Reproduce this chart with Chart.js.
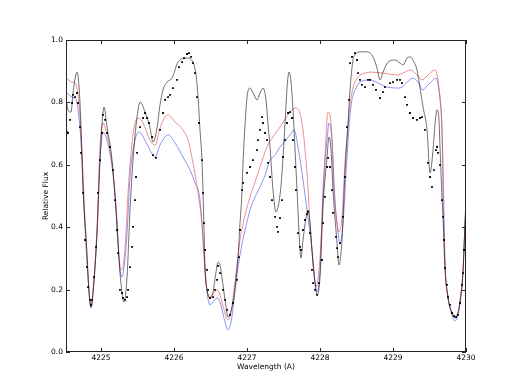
<!DOCTYPE html>
<html lang="en">
<head>
<meta charset="UTF-8">
<title>Relative Flux vs Wavelength</title>
<script src="https://cdn.jsdelivr.net/npm/chart.js"></script>
<style>
  body { margin: 0; background: #fff; }
  #spec { display: block; }
</style>
</head>
<body>
<canvas id="spec" width="518" height="388"></canvas>
<script>
// axis ticks
const xTicks = [4225, 4226, 4227, 4228, 4229, 4230];
const yTicks = [0.0, 0.2, 0.4, 0.6, 0.8, 1.0];

// black model
const blackWl = [4224.521, 4224.548, 4224.589, 4224.616, 4224.671, 4224.699, 4224.726, 4224.753, 4224.808, 4224.836,
  4224.863, 4224.890, 4224.945, 4224.986, 4225.041, 4225.082, 4225.151, 4225.219, 4225.260, 4225.315,
  4225.356, 4225.397, 4225.438, 4225.493, 4225.534, 4225.603, 4225.671, 4225.712, 4225.767, 4225.808,
  4225.849, 4225.904, 4225.973, 4226.055, 4226.178, 4226.260, 4226.301, 4226.329, 4226.356, 4226.384,
  4226.411, 4226.425, 4226.452, 4226.493, 4226.534, 4226.575, 4226.603, 4226.630, 4226.658, 4226.699,
  4226.740, 4226.795, 4226.836, 4226.877, 4226.904, 4226.932, 4226.945, 4226.973, 4227.000, 4227.041,
  4227.096, 4227.137, 4227.178, 4227.219, 4227.260, 4227.288, 4227.315, 4227.356, 4227.397, 4227.452,
  4227.479, 4227.521, 4227.548, 4227.575, 4227.603, 4227.630, 4227.658, 4227.685, 4227.726, 4227.740,
  4227.767, 4227.808, 4227.836, 4227.863, 4227.904, 4227.945, 4227.959, 4228.000, 4228.041, 4228.096,
  4228.123, 4228.151, 4228.178, 4228.233, 4228.260, 4228.301, 4228.342, 4228.384, 4228.411, 4228.452,
  4228.479, 4228.548, 4228.644, 4228.726, 4228.781, 4228.822, 4228.863, 4228.932, 4229.027, 4229.096,
  4229.137, 4229.192, 4229.233, 4229.288, 4229.329, 4229.370, 4229.411, 4229.466, 4229.507, 4229.548,
  4229.575, 4229.603, 4229.630, 4229.644, 4229.671, 4229.685, 4229.712, 4229.753, 4229.808, 4229.849,
  4229.890, 4229.918, 4229.959, 4229.986, 4230.000];
const blackFlux = [0.814, 0.776, 0.769, 0.830, 0.897, 0.849, 0.721, 0.529, 0.317, 0.189,
  0.144, 0.189, 0.381, 0.615, 0.785, 0.721, 0.615, 0.401, 0.253, 0.160,
  0.240, 0.455, 0.615, 0.753, 0.801, 0.769, 0.718, 0.673, 0.718, 0.792,
  0.840, 0.865, 0.878, 0.929, 0.942, 0.929, 0.888, 0.817, 0.712, 0.606,
  0.391, 0.263, 0.199, 0.173, 0.192, 0.256, 0.288, 0.279, 0.237, 0.167,
  0.112, 0.144, 0.208, 0.304, 0.413, 0.519, 0.606, 0.728, 0.817, 0.846,
  0.824, 0.808, 0.830, 0.846, 0.808, 0.728, 0.657, 0.519, 0.449, 0.503,
  0.574, 0.734, 0.846, 0.897, 0.865, 0.776, 0.647, 0.519, 0.327, 0.301,
  0.359, 0.429, 0.455, 0.413, 0.285, 0.199, 0.183, 0.240, 0.465, 0.625,
  0.689, 0.647, 0.519, 0.349, 0.279, 0.359, 0.574, 0.734, 0.840, 0.936,
  0.952, 0.962, 0.962, 0.946, 0.910, 0.872, 0.897, 0.929, 0.936, 0.926,
  0.920, 0.942, 0.946, 0.929, 0.904, 0.846, 0.785, 0.712, 0.574, 0.647,
  0.728, 0.776, 0.744, 0.657, 0.497, 0.433, 0.269, 0.176, 0.125, 0.109,
  0.125, 0.157, 0.253, 0.413, 0.487];

// red model
const redWl = [4224.521, 4224.603, 4224.644, 4224.671, 4224.699, 4224.740, 4224.781, 4224.822, 4224.863, 4224.890,
  4224.945, 4224.986, 4225.027, 4225.055, 4225.123, 4225.192, 4225.233, 4225.274, 4225.301, 4225.342,
  4225.370, 4225.425, 4225.466, 4225.507, 4225.575, 4225.671, 4225.740, 4225.808, 4225.877, 4225.918,
  4226.014, 4226.123, 4226.192, 4226.260, 4226.329, 4226.384, 4226.425, 4226.452, 4226.493, 4226.534,
  4226.589, 4226.630, 4226.685, 4226.740, 4226.781, 4226.822, 4226.863, 4226.904, 4226.973, 4227.041,
  4227.110, 4227.178, 4227.274, 4227.356, 4227.452, 4227.589, 4227.658, 4227.726, 4227.767, 4227.795,
  4227.822, 4227.863, 4227.904, 4227.945, 4227.986, 4228.027, 4228.068, 4228.110, 4228.151, 4228.192,
  4228.233, 4228.260, 4228.301, 4228.342, 4228.384, 4228.411, 4228.452, 4228.507, 4228.616, 4228.685,
  4228.863, 4229.055, 4229.164, 4229.233, 4229.329, 4229.397, 4229.452, 4229.507, 4229.575, 4229.616,
  4229.644, 4229.671, 4229.685, 4229.712, 4229.753, 4229.808, 4229.849, 4229.890, 4229.918, 4229.959,
  4229.986, 4230.000];
const redFlux = [0.878, 0.865, 0.862, 0.846, 0.792, 0.638, 0.423, 0.240, 0.151, 0.199,
  0.401, 0.657, 0.734, 0.721, 0.647, 0.510, 0.349, 0.263, 0.272, 0.381,
  0.510, 0.670, 0.734, 0.750, 0.734, 0.679, 0.663, 0.718, 0.753, 0.760,
  0.737, 0.712, 0.679, 0.606, 0.510, 0.407, 0.263, 0.199, 0.176, 0.186,
  0.199, 0.183, 0.135, 0.103, 0.128, 0.199, 0.279, 0.359, 0.439, 0.497,
  0.545, 0.593, 0.657, 0.689, 0.721, 0.769, 0.782, 0.766, 0.712, 0.647,
  0.574, 0.413, 0.285, 0.208, 0.263, 0.413, 0.625, 0.769, 0.734, 0.519,
  0.413, 0.385, 0.433, 0.606, 0.728, 0.792, 0.846, 0.878, 0.894, 0.897,
  0.894, 0.888, 0.897, 0.904, 0.888, 0.872, 0.881, 0.894, 0.904, 0.872,
  0.808, 0.712, 0.497, 0.279, 0.176, 0.128, 0.115, 0.128, 0.167, 0.263,
  0.407, 0.471];

// blue model
const blueWl = [4224.521, 4224.603, 4224.658, 4224.685, 4224.726, 4224.767, 4224.822, 4224.863, 4224.890, 4224.945,
  4224.986, 4225.027, 4225.082, 4225.151, 4225.219, 4225.247, 4225.288, 4225.315, 4225.356, 4225.397,
  4225.466, 4225.521, 4225.603, 4225.671, 4225.740, 4225.808, 4225.877, 4225.918, 4226.014, 4226.123,
  4226.219, 4226.288, 4226.356, 4226.397, 4226.425, 4226.452, 4226.493, 4226.534, 4226.589, 4226.630,
  4226.685, 4226.740, 4226.781, 4226.822, 4226.863, 4226.904, 4226.973, 4227.041, 4227.110, 4227.178,
  4227.247, 4227.315, 4227.384, 4227.452, 4227.534, 4227.616, 4227.644, 4227.699, 4227.767, 4227.822,
  4227.890, 4227.932, 4227.959, 4228.000, 4228.041, 4228.096, 4228.123, 4228.164, 4228.205, 4228.247,
  4228.274, 4228.315, 4228.370, 4228.411, 4228.438, 4228.493, 4228.548, 4228.685, 4228.822, 4228.918,
  4229.096, 4229.192, 4229.274, 4229.342, 4229.411, 4229.466, 4229.507, 4229.589, 4229.630, 4229.658,
  4229.685, 4229.712, 4229.753, 4229.808, 4229.849, 4229.890, 4229.918, 4229.959, 4229.986, 4230.000];
const blueFlux = [0.833, 0.817, 0.808, 0.776, 0.670, 0.455, 0.240, 0.141, 0.189, 0.381,
  0.615, 0.705, 0.679, 0.593, 0.423, 0.295, 0.240, 0.272, 0.381, 0.561,
  0.679, 0.705, 0.679, 0.647, 0.625, 0.663, 0.689, 0.696, 0.670, 0.625,
  0.583, 0.542, 0.487, 0.359, 0.263, 0.192, 0.151, 0.160, 0.173, 0.160,
  0.109, 0.071, 0.096, 0.167, 0.247, 0.311, 0.391, 0.455, 0.497, 0.529,
  0.567, 0.615, 0.631, 0.657, 0.679, 0.705, 0.712, 0.657, 0.551, 0.455,
  0.327, 0.221, 0.192, 0.263, 0.519, 0.679, 0.734, 0.679, 0.487, 0.381,
  0.349, 0.413, 0.625, 0.760, 0.808, 0.846, 0.865, 0.872, 0.859, 0.849,
  0.846, 0.865, 0.878, 0.865, 0.840, 0.853, 0.862, 0.878, 0.840, 0.776,
  0.606, 0.295, 0.176, 0.119, 0.099, 0.119, 0.160, 0.263, 0.407, 0.471];

// observed spectrum
const obsWl = [4224.521, 4224.534, 4224.548, 4224.575, 4224.603, 4224.616, 4224.644, 4224.671, 4224.685, 4224.712,
  4224.726, 4224.753, 4224.781, 4224.808, 4224.822, 4224.849, 4224.863, 4224.877, 4224.904, 4224.932,
  4224.959, 4224.986, 4225.014, 4225.027, 4225.055, 4225.082, 4225.123, 4225.164, 4225.192, 4225.219,
  4225.233, 4225.260, 4225.288, 4225.301, 4225.329, 4225.356, 4225.370, 4225.397, 4225.425, 4225.438,
  4225.466, 4225.479, 4225.493, 4225.534, 4225.575, 4225.603, 4225.630, 4225.658, 4225.699, 4225.712,
  4225.753, 4225.808, 4225.849, 4225.877, 4225.918, 4225.945, 4225.986, 4226.041, 4226.068, 4226.110,
  4226.137, 4226.178, 4226.205, 4226.233, 4226.260, 4226.288, 4226.315, 4226.342, 4226.384, 4226.397,
  4226.411, 4226.425, 4226.452, 4226.466, 4226.493, 4226.534, 4226.562, 4226.589, 4226.603, 4226.630,
  4226.671, 4226.699, 4226.726, 4226.767, 4226.808, 4226.863, 4226.890, 4226.904, 4226.932, 4226.945,
  4227.000, 4227.041, 4227.082, 4227.137, 4227.151, 4227.178, 4227.205, 4227.219, 4227.247, 4227.274,
  4227.288, 4227.315, 4227.342, 4227.384, 4227.411, 4227.425, 4227.452, 4227.479, 4227.493, 4227.521,
  4227.548, 4227.562, 4227.589, 4227.616, 4227.630, 4227.658, 4227.671, 4227.699, 4227.726, 4227.740,
  4227.767, 4227.795, 4227.822, 4227.836, 4227.863, 4227.890, 4227.904, 4227.932, 4227.959, 4227.986,
  4228.027, 4228.041, 4228.068, 4228.096, 4228.110, 4228.137, 4228.164, 4228.178, 4228.219, 4228.233,
  4228.247, 4228.274, 4228.315, 4228.342, 4228.370, 4228.397, 4228.411, 4228.438, 4228.479, 4228.507,
  4228.521, 4228.548, 4228.575, 4228.616, 4228.658, 4228.685, 4228.726, 4228.767, 4228.822, 4228.863,
  4228.890, 4228.959, 4229.000, 4229.055, 4229.096, 4229.123, 4229.164, 4229.192, 4229.233, 4229.274,
  4229.329, 4229.370, 4229.397, 4229.438, 4229.479, 4229.507, 4229.534, 4229.562, 4229.589, 4229.603,
  4229.616, 4229.644, 4229.671, 4229.685, 4229.699, 4229.712, 4229.740, 4229.753, 4229.781, 4229.808,
  4229.836, 4229.863, 4229.890, 4229.918, 4229.945, 4229.959, 4229.973];
const obsFlux = [0.718, 0.705, 0.702, 0.744, 0.798, 0.824, 0.817, 0.830, 0.798, 0.721,
  0.638, 0.510, 0.359, 0.272, 0.208, 0.167, 0.151, 0.167, 0.240, 0.337,
  0.510, 0.615, 0.702, 0.760, 0.744, 0.702, 0.657, 0.583, 0.487, 0.391,
  0.317, 0.199, 0.189, 0.173, 0.167, 0.176, 0.199, 0.272, 0.337, 0.401,
  0.487, 0.561, 0.638, 0.721, 0.750, 0.766, 0.750, 0.734, 0.689, 0.631,
  0.622, 0.712, 0.766, 0.808, 0.817, 0.824, 0.846, 0.872, 0.913, 0.929,
  0.942, 0.955, 0.958, 0.946, 0.926, 0.894, 0.817, 0.734, 0.615, 0.510,
  0.413, 0.327, 0.263, 0.199, 0.173, 0.176, 0.199, 0.231, 0.276, 0.253,
  0.199, 0.167, 0.135, 0.119, 0.157, 0.231, 0.304, 0.391, 0.519, 0.542,
  0.574, 0.593, 0.615, 0.647, 0.679, 0.712, 0.753, 0.734, 0.702, 0.679,
  0.606, 0.561, 0.487, 0.433, 0.401, 0.385, 0.429, 0.487, 0.625, 0.679,
  0.734, 0.766, 0.769, 0.750, 0.679, 0.593, 0.519, 0.381, 0.337, 0.327,
  0.391, 0.423, 0.442, 0.449, 0.381, 0.263, 0.221, 0.199, 0.183, 0.221,
  0.295, 0.413, 0.497, 0.593, 0.622, 0.593, 0.519, 0.446, 0.369, 0.333,
  0.304, 0.349, 0.433, 0.561, 0.721, 0.808, 0.926, 0.946, 0.958, 0.936,
  0.894, 0.872, 0.856, 0.849, 0.872, 0.872, 0.856, 0.840, 0.814, 0.833,
  0.849, 0.862, 0.865, 0.872, 0.872, 0.862, 0.817, 0.792, 0.766, 0.750,
  0.744, 0.750, 0.753, 0.712, 0.606, 0.561, 0.529, 0.583, 0.647, 0.657,
  0.638, 0.599, 0.487, 0.433, 0.359, 0.269, 0.215, 0.176, 0.151, 0.125,
  0.115, 0.112, 0.119, 0.157, 0.215, 0.253, 0.327];

const pts = (xs, ys) => xs.map((v, i) => ({ x: v, y: ys[i] }));

const tickFont = { family: 'DejaVu Sans', size: 7.5 };

// box round the plot with inward ticks, matplotlib style
const framePlugin = {
  id: 'frame',
  afterDatasetsDraw(chart) {
    const { ctx, chartArea: a, scales } = chart;
    ctx.save();
    ctx.strokeStyle = '#222';
    ctx.lineWidth = 1;
    ctx.strokeRect(a.left + 0.5, a.top + 0.5, a.right - a.left - 1, a.bottom - a.top - 1);
    ctx.beginPath();
    xTicks.forEach(v => {
      const px = Math.round(scales.x.getPixelForValue(v)) + 0.5;
      ctx.moveTo(px, a.bottom); ctx.lineTo(px, a.bottom - 4);
      ctx.moveTo(px, a.top); ctx.lineTo(px, a.top + 4);
    });
    yTicks.forEach(v => {
      const py = Math.round(scales.y.getPixelForValue(v)) + 0.5;
      ctx.moveTo(a.left, py); ctx.lineTo(a.left + 4, py);
      ctx.moveTo(a.right, py); ctx.lineTo(a.right - 4, py);
    });
    ctx.stroke();
    ctx.restore();
  }
};

const lineSet = (label, data, color) => ({
  label: label,
  data: data,
  showLine: true,
  borderColor: color,
  borderWidth: 0.8,
  pointRadius: 0,
  cubicInterpolationMode: 'monotone',
  fill: false
});

new Chart(document.getElementById('spec'), {
  type: 'scatter',
  data: {
    datasets: [
      {
        label: 'Observed',
        data: pts(obsWl, obsFlux),
        showLine: false,
        pointStyle: 'rect',
        pointRadius: 1.3,
        pointBorderWidth: 0,
        backgroundColor: '#000',
        borderColor: '#000'
      },
      lineSet('Model 1', pts(blackWl, blackFlux), 'rgba(0,0,0,0.7)'),
      lineSet('Model 2', pts(redWl, redFlux), 'rgba(225,70,70,0.75)'),
      lineSet('Model 3', pts(blueWl, blueFlux), 'rgba(60,80,230,0.75)')
    ]
  },
  options: {
    responsive: false,
    animation: false,
    layout: { padding: { top: 40, right: 52, left: 0, bottom: 0 } },
    plugins: {
      legend: { display: false },
      tooltip: { enabled: false }
    },
    scales: {
      x: {
        type: 'linear',
        min: 4224.52,
        max: 4230,
        grid: { display: false, drawTicks: false },
        border: { display: false },
        afterBuildTicks: s => { s.ticks = xTicks.map(v => ({ value: v })); },
        afterFit: s => { s.height = 36; },
        ticks: { padding: 2, font: tickFont, color: '#000', maxRotation: 0, callback: v => String(v) },
        title: { display: true, text: 'Wavelength (A)', font: tickFont, color: '#000', padding: { top: 0, bottom: 16.5 } }
      },
      y: {
        type: 'linear',
        min: 0,
        max: 1,
        grid: { display: false, drawTicks: false },
        border: { display: false },
        afterBuildTicks: s => { s.ticks = yTicks.map(v => ({ value: v })); },
        afterFit: s => { s.width = 66; },
        ticks: { padding: 3, font: tickFont, color: '#000', callback: v => v.toFixed(1) },
        title: { display: true, text: 'Relative Flux', font: tickFont, color: '#000', padding: { top: 41.5, bottom: 0 } }
      }
    }
  },
  plugins: [framePlugin]
});
</script>
</body>
</html>
